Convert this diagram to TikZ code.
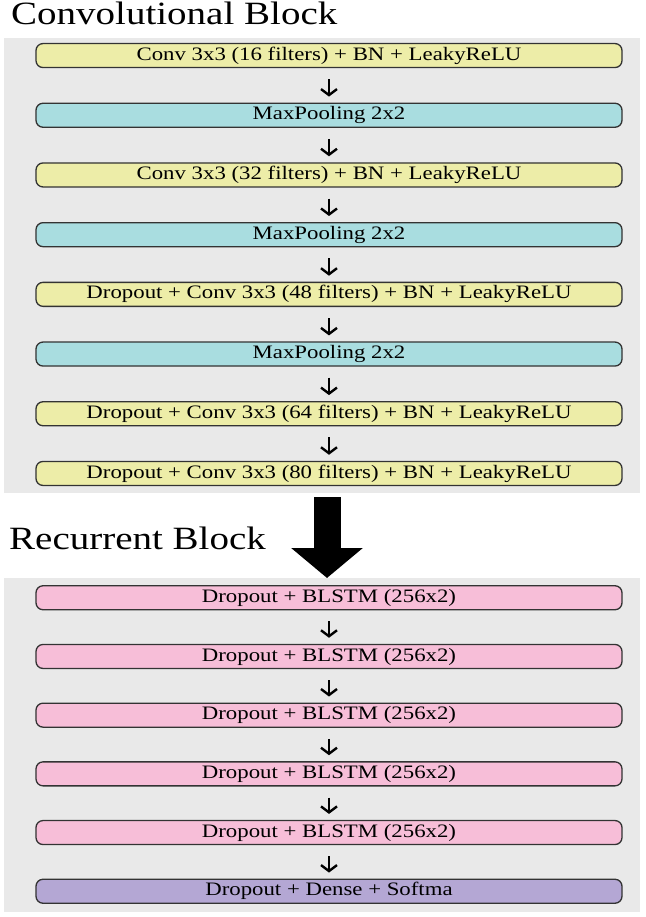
\documentclass[tikz,border=0pt]{standalone}
\usepackage{fontspec}
\setmainfont{Liberation Serif}[FakeStretch=1.2]
\usepackage{tikz}
\usetikzlibrary{matrix}
\usetikzlibrary{arrows.meta}
\definecolor{convyellow}{HTML}{EDEDA8}
\definecolor{poolcyan}{HTML}{A9DDE0}
\definecolor{lstmpink}{HTML}{F7BED8}
\definecolor{densepurple}{HTML}{B4A7D4}
\definecolor{panelgray}{HTML}{E9E9E9}
\tikzset{
  layer/.style={draw=black!80,line width=1.3pt,rounded corners=7pt,
    minimum width=586pt,minimum height=24pt,inner sep=0pt,
    font=\fontsize{19}{22}\selectfont},
  convlayer/.style={layer,fill=convyellow},
  poollayer/.style={layer,fill=poolcyan},
  lstmlayer/.style={layer,fill=lstmpink},
  denselayer/.style={layer,fill=densepurple},
  panel/.style={fill=panelgray,inner sep=0pt,outer sep=0pt},
  blocktitle/.style={inner sep=0pt,font=\fontsize{32.5}{36}\selectfont},
  smallarrow/.style={-{Straight Barb[length=6pt,width=16pt]},line width=2.4pt,
    shorten <=11pt,shorten >=6pt},
  bigarrow/.style={-{Triangle[length=30pt,width=70pt]},line width=27pt,
    shorten <=4pt}
}

\begin{document}
\begin{tikzpicture}[x=1pt,y=-1pt]
  \path[fill=white,use as bounding box] (0,0) rectangle (645,917);
  \node[panel,minimum width=636pt,minimum height=455pt] (convpanel) at (322,265.5) {};
  \node[panel,minimum width=636pt,minimum height=334pt] (recpanel) at (322,745) {};
  \node[blocktitle,anchor=base west] (convtitle) at (11,25) {Convolutional Block};
  \node[blocktitle,anchor=base west] (rectitle) at (9,549) {Recurrent Block};

  \matrix (conv) [matrix of nodes,row sep=34.4pt] at (329,264.5)
  {
     |[convlayer]| Conv 3x3 (16 filters) + BN + LeakyReLU \\
     |[poollayer]| MaxPooling 2x2 \\
     |[convlayer]| Conv 3x3 (32 filters) + BN + LeakyReLU \\
     |[poollayer]| MaxPooling 2x2 \\
     |[convlayer]| Dropout + Conv 3x3 (48 filters) + BN + LeakyReLU \\
     |[poollayer]| MaxPooling 2x2 \\
     |[convlayer]| Dropout + Conv 3x3 (64 filters) + BN + LeakyReLU \\
     |[convlayer]| Dropout + Conv 3x3 (80 filters) + BN + LeakyReLU \\};
  \matrix (rec) [matrix of nodes,row sep=33.4pt] at (329,744.5)
  {
     |[lstmlayer]| Dropout + BLSTM (256x2) \\
     |[lstmlayer]| Dropout + BLSTM (256x2) \\
     |[lstmlayer]| Dropout + BLSTM (256x2) \\
     |[lstmlayer]| Dropout + BLSTM (256x2) \\
     |[lstmlayer]| Dropout + BLSTM (256x2) \\
     |[denselayer]| Dropout + Dense + Softma \\};

  \path[smallarrow]
    (conv-1-1) edge (conv-2-1)
    (conv-2-1) edge (conv-3-1)
    (conv-3-1) edge (conv-4-1)
    (conv-4-1) edge (conv-5-1)
    (conv-5-1) edge (conv-6-1)
    (conv-6-1) edge (conv-7-1)
    (conv-7-1) edge (conv-8-1)
    (rec-1-1) edge (rec-2-1)
    (rec-2-1) edge (rec-3-1)
    (rec-3-1) edge (rec-4-1)
    (rec-4-1) edge (rec-5-1)
    (rec-5-1) edge (rec-6-1);
  \draw[bigarrow] ([xshift=5pt]convpanel.south) -- ([xshift=5pt]recpanel.north);
\end{tikzpicture}
\end{document}
